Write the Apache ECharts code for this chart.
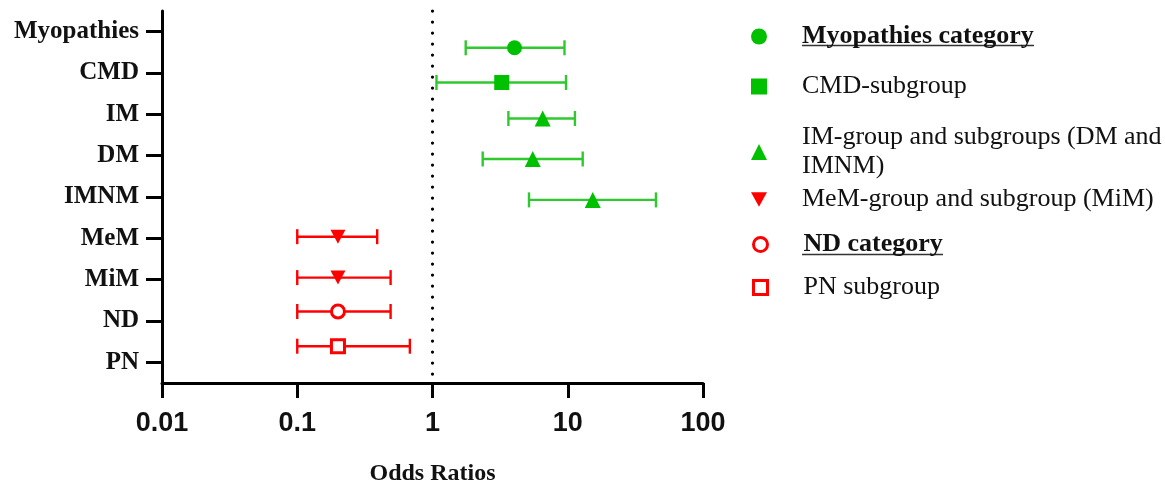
<!DOCTYPE html>
<html><head><meta charset="utf-8">
<script src="https://cdn.jsdelivr.net/npm/echarts@6/dist/echarts.min.js"></script>
<style>html,body{margin:0;padding:0;background:#fff}#c{width:1165px;height:486px}</style>
</head><body><div id="c"></div>
<script>
// ---- data ----
const categories = ['Myopathies','CMD','IM','DM','IMNM','MeM','MiM','ND','PN'];
const rowPos     = [1.39, 2.23, 3.1, 4.08, 5.07, 5.96, 6.95, 7.77, 8.61];
const oddsRatio  = [4.04, 3.25, 6.53, 5.51, 15.3, 0.2, 0.2, 0.2, 0.2];
const ciLow      = [1.76, 1.07, 3.64, 2.35, 5.17, 0.1, 0.1, 0.1, 0.1];
const ciHigh     = [9.46, 9.71, 11.3, 12.9, 44.9, 0.39, 0.49, 0.49, 0.68];
const rowGroup   = [0, 1, 2, 2, 2, 3, 3, 4, 5];
const legendNames = [
  'Myopathies category',
  'CMD-subgroup',
  'IM-group and subgroups (DM and\nIMNM)',
  'MeM-group and subgroup (MiM)',
  'ND category',
  'PN subgroup'
];
const xTicks = [0.01, 0.1, 1, 10, 100];
const xTickLabels = ['0.01', '0.1', '1', '10', '100'];
const refLine = 1;

// ---- styles ----
const GREEN = '#00C000', GREEN_BAR = '#2FC82F', RED = '#FF0000';
const groupStyle = [
  {symbol: 'circle', size: 15, color: GREEN, bold: true},
  {symbol: 'rect', size: 15, color: GREEN},
  {symbol: 'triangle', size: 16, color: GREEN},
  {symbol: 'path://M0,0L10,0L5,9Z', size: [15, 14], color: RED},
  {symbol: 'circle', size: 13, color: RED, empty: true, bold: true},
  {symbol: 'rect', size: 13, color: RED, empty: true}
];
const legendCenters = [36.5, 86.5, 152, 199.5, 244.5, 287.5];
const LH = 29;

const chart = echarts.init(document.getElementById('c'));

const scatterSeries = legendNames.map((name, k) => {
  const st = groupStyle[k];
  const s = {
    type: 'scatter', name: name, symbol: st.symbol, symbolSize: st.size,
    z: 5,
    data: categories.map((c, i) => i).filter(i => rowGroup[i] === k).map(i => [oddsRatio[i], rowPos[i]]),
    itemStyle: st.empty ? {color: '#fff', borderColor: st.color, borderWidth: 3, opacity: 1}
                        : {color: st.color, opacity: 1},
    emphasis: {disabled: true}
  };
  if (k === 0) {
    s.markLine = {
      silent: true, symbol: 'none', label: {show: false},
      lineStyle: {color: '#000', width: 3.2, type: [0.1, 10.9], cap: 'round'},
      emphasis: {disabled: true},
      data: [{xAxis: refLine}]
    };
  }
  return s;
});

const ciSeries = {
  type: 'custom', name: 'ci', z: 3, silent: true,
  encode: {x: [0, 1], y: 2},
  data: categories.map((c, i) => [ciLow[i], ciHigh[i], rowPos[i]]),
  renderItem: function (params, api) {
    const y = api.value(2);
    const a = api.coord([api.value(0), y]);
    const b = api.coord([api.value(1), y]);
    const isRed = rowGroup[params.dataIndex] >= 3;
    const col = isRed ? RED : GREEN_BAR;
    const w = 2.4, h = 7.5;
    const st = {stroke: col, lineWidth: w};
    return {type: 'group', children: [
      {type: 'line', shape: {x1: a[0], y1: a[1], x2: b[0], y2: b[1]}, style: st},
      {type: 'line', shape: {x1: a[0], y1: a[1] - h, x2: a[0], y2: a[1] + h}, style: st},
      {type: 'line', shape: {x1: b[0], y1: b[1] - h, x2: b[0], y2: b[1] + h}, style: st}
    ]};
  }
};

const legends = legendNames.map((name, k) => {
  const st = groupStyle[k];
  const iw = st.empty ? 14 : 16;
  const H = Math.max(iw, name.split('\n').length * LH);
  const lg = {
    data: [name], orient: 'vertical', selectedMode: false, padding: 0,
    left: 759 - iw / 2, top: legendCenters[k] - H / 2,
    itemWidth: iw, itemHeight: iw,
    textStyle: {
      fontFamily: 'Liberation Serif', fontSize: 26, lineHeight: LH,
      fontWeight: st.bold ? 'bold' : 'normal', color: '#111',
      padding: [0, 0, 0, 802 - (759 - iw / 2) - iw - 5]
    }
  };
  if (st.empty) lg.itemStyle = {color: '#fff', borderColor: st.color, borderWidth: 3};
  return lg;
});

chart.setOption({
  animation: false,
  backgroundColor: '#fff',
  grid: {left: 162, right: 462, top: 11, bottom: 103, containLabel: false, outerBoundsMode: 'none'},
  legend: legends,
  xAxis: {
    type: 'log', logBase: 10, min: xTicks[0], max: xTicks[xTicks.length - 1],
    axisLine: {show: true, lineStyle: {color: '#000', width: 3}},
    axisTick: {show: true, length: 15, lineStyle: {color: '#000', width: 3}},
    splitLine: {show: false}, minorTick: {show: false},
    axisLabel: {
      margin: 27, color: '#111', fontFamily: 'Liberation Sans', fontWeight: 'bold', fontSize: 27,
      formatter: function (v) {
        const idx = xTicks.findIndex(t => Math.abs(Math.log10(t) - Math.log10(v)) < 1e-6);
        return idx >= 0 ? xTickLabels[idx] : '';
      }
    },
    name: 'Odds Ratios', nameLocation: 'middle', nameGap: 79,
    nameTextStyle: {fontFamily: 'Liberation Serif', fontWeight: 'bold', fontSize: 24, color: '#111'}
  },
  yAxis: {
    type: 'value', inverse: true, min: 0.5, max: categories.length + 0.5,
    axisLine: {show: true, lineStyle: {color: '#000', width: 3}},
    axisTick: {show: true, length: 16, lineStyle: {color: '#000', width: 3},
               customValues: categories.map((c, i) => i + 1)},
    splitLine: {show: false},
    axisLabel: {
      margin: 23, color: '#111', fontFamily: 'Liberation Serif', fontWeight: 'bold', fontSize: 25,
      padding: [6, 0, 0, 0],
      customValues: categories.map((c, i) => i + 1),
      formatter: function (v) { return categories[Math.round(v) - 1] || ''; }
    }
  },
  graphic: [
    {type: 'line', shape: {x1: 802, y1: 45.5, x2: 1034, y2: 45.5}, style: {stroke: '#333', lineWidth: 1.5}, silent: true},
    {type: 'line', shape: {x1: 802, y1: 254.5, x2: 943, y2: 254.5}, style: {stroke: '#333', lineWidth: 1.5}, silent: true}
  ],
  series: [ciSeries].concat(scatterSeries)
});
</script>
</body></html>
